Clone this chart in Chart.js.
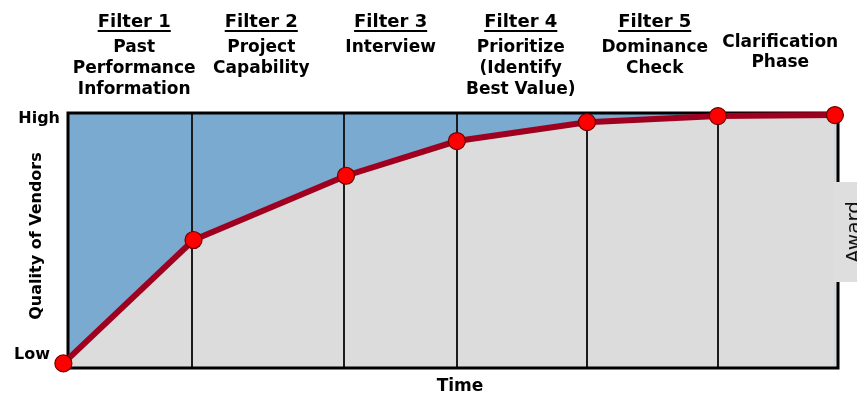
<!DOCTYPE html>
<html>
<head>
<meta charset="utf-8">
<script src="https://cdn.jsdelivr.net/npm/chart.js@4/dist/chart.umd.min.js"></script>
<style>
  html, body { margin: 0; padding: 0; background: #fff; }
  #wrap { width: 857px; height: 394px; }
</style>
</head>
<body>
<div id="wrap"><canvas id="chart" width="857" height="394"></canvas></div>
<script>
// vendor quality over the selection process (time runs 0..100)
const timeValues = [-0.6, 16.3, 36.1, 50.5, 67.4, 84.4, 99.6];
const qualityValues = [1.8, 50.2, 75.4, 89.0, 96.4, 98.8, 99.2];

// phase boundaries on the time axis
const dividers = [16.1, 35.9, 50.5, 67.4, 84.4];

const filterTitles = ['Filter 1', 'Filter 2', 'Filter 3', 'Filter 4', 'Filter 5', ''];
const filterNotes = [
  ['Past', 'Performance', 'Information'],
  ['Project', 'Capability'],
  ['Interview'],
  ['Prioritize', '(Identify', 'Best Value)'],
  ['Dominance', 'Check'],
  ['Clarification', 'Phase']
];

const yTickValues = [5.1, 97.6];
const yTickLabels = ['Low', 'High'];

// where the phase headings sit on the time axis
const headerCenters = [8.6, 25.1, 41.9, 58.8, 76.2, 92.5];
const yLabelRight = [50, 60];
const awardTab = { top: 182, bottom: 282 };

const FONT = '"DejaVu Sans", "Liberation Sans", sans-serif';

const framePlugin = {
  id: 'frame',
  beforeDraw(chart) {
    const { ctx, chartArea: a, scales: { x } } = chart;
    const lastX = x.getPixelForValue(timeValues[timeValues.length - 1]);
    ctx.save();
    // gray strip past the last point, blue field behind the curve
    ctx.fillStyle = '#dcdcdc';
    ctx.fillRect(lastX - 1, a.top, a.right - lastX + 1, a.bottom - a.top);
    ctx.fillStyle = '#7aaad0';
    ctx.fillRect(a.left, a.top, lastX - a.left, a.bottom - a.top);
    ctx.restore();
  },
  beforeDatasetsDraw(chart) {
    const { ctx, chartArea: a, scales: { x } } = chart;
    ctx.save();
    ctx.strokeStyle = '#1c1c1c';
    ctx.lineWidth = 2;
    dividers.forEach(v => {
      const px = Math.round(x.getPixelForValue(v));
      ctx.beginPath();
      ctx.moveTo(px, a.top);
      ctx.lineTo(px, a.bottom);
      ctx.stroke();
    });
    // Award tab covers the right edge of the plot
    ctx.fillStyle = '#dedede';
    ctx.fillRect(a.right - 4, awardTab.top, chart.width - a.right + 4, awardTab.bottom - awardTab.top);
    // frame, right edge left open for the Award tab
    ctx.strokeStyle = '#000';
    ctx.lineWidth = 3;
    ctx.beginPath();
    ctx.moveTo(a.right, awardTab.top);
    ctx.lineTo(a.right, a.top);
    ctx.lineTo(a.left, a.top);
    ctx.lineTo(a.left, a.bottom);
    ctx.lineTo(a.right, a.bottom);
    ctx.lineTo(a.right, awardTab.bottom);
    ctx.stroke();
    ctx.restore();
  },
  afterDraw(chart) {
    const { ctx, scales: { x, y } } = chart;
    ctx.save();
    ctx.fillStyle = '#000';
    ctx.textAlign = 'center';
    ctx.textBaseline = 'alphabetic';

    // phase headings
    filterTitles.forEach((title, i) => {
      const cx = x.getPixelForValue(headerCenters[i]);
      let base = 52, step = 21;
      if (title) {
        ctx.font = 'bold 18px ' + FONT;
        ctx.fillText(title, cx, 27);
        const w = ctx.measureText(title).width;
        ctx.fillRect(cx - w / 2, 30, w, 2);
      } else {
        base = 47; step = 20;
      }
      ctx.font = 'bold 17px ' + FONT;
      filterNotes[i].forEach((line, j) => ctx.fillText(line, cx, base + step * j));
    });

    // quality axis
    ctx.font = 'bold 16px ' + FONT;
    ctx.textAlign = 'right';
    ctx.textBaseline = 'middle';
    yTickValues.forEach((v, i) => {
      ctx.fillText(yTickLabels[i], yLabelRight[i], y.getPixelForValue(v));
    });
    ctx.save();
    ctx.translate(37, 236);
    ctx.rotate(-Math.PI / 2);
    ctx.textAlign = 'center';
    ctx.fillText('Quality of Vendors', 0, 0);
    ctx.restore();

    // time axis
    ctx.font = 'bold 17px ' + FONT;
    ctx.textAlign = 'center';
    ctx.textBaseline = 'alphabetic';
    ctx.fillText('Time', 460, 391);

    // Award label, reading upwards, runs off the right edge
    ctx.fillStyle = '#111';
    ctx.font = '20px ' + FONT;
    ctx.translate(860, (awardTab.top + awardTab.bottom) / 2);
    ctx.rotate(-Math.PI / 2);
    ctx.textAlign = 'center';
    ctx.textBaseline = 'alphabetic';
    ctx.fillText('Award', 0, 0);
    ctx.restore();
  }
};

new Chart(document.getElementById('chart'), {
  type: 'line',
  data: {
    datasets: [{
      data: timeValues.map((t, i) => ({ x: t, y: qualityValues[i] })),
      borderColor: '#a0001f',
      borderWidth: 6,
      backgroundColor: '#dcdcdc',
      fill: 'start',
      tension: 0,
      clip: false,
      pointRadius: 8.5,
      pointBackgroundColor: '#ff0000',
      pointBorderColor: '#6a0000',
      pointBorderWidth: 1.2
    }]
  },
  options: {
    responsive: false,
    animation: false,
    devicePixelRatio: 1,
    layout: { padding: { left: 68, top: 113, right: 19, bottom: 26 } },
    scales: {
      x: { type: 'linear', min: 0, max: 100, display: false },
      y: { type: 'linear', min: 0, max: 100, display: false }
    },
    plugins: {
      legend: { display: false },
      tooltip: { enabled: false },
      filler: { drawTime: 'beforeDatasetsDraw' }
    }
  },
  plugins: [framePlugin]
});
</script>
</body>
</html>
